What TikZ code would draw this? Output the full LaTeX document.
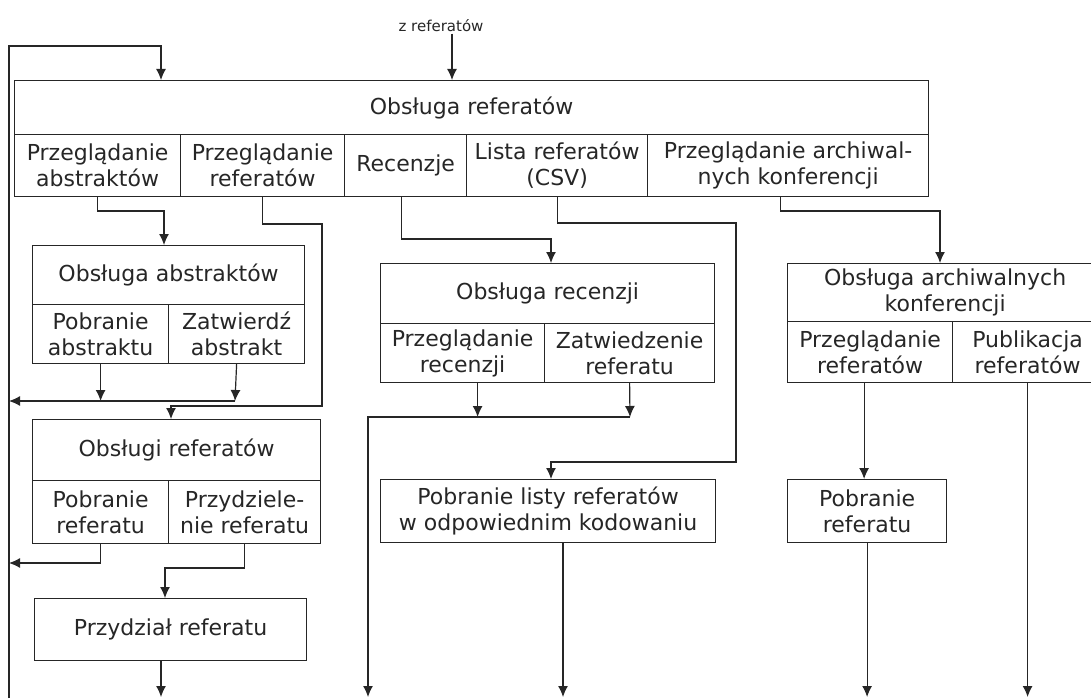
\documentclass[tikz,border=0pt]{standalone}
\usepackage{fontspec}
\setmainfont{DejaVu Sans}
\usetikzlibrary{arrows.meta}

\begin{document}
\begin{tikzpicture}[x=1pt, y=-1pt, line width=1.2pt, color=black!85, font=\fontsize{22}{26}\selectfont]
    % Styles
    \tikzstyle{cell} = [rectangle, draw, inner sep=0pt, align=center, anchor=north west]
    \tikzstyle{note} = [inner sep=1pt, font=\fontsize{15}{18}\selectfont]
    \tikzstyle{arrow} = [->, >={Latex[length=11pt, width=10pt]}]

    \clip (0,0) rectangle (1091,698);

    % Nodes
    \node [note] (zin) at (441,26) {z referatów};
    \node [cell, minimum width=914pt, minimum height=54pt] (main) at (14,80) {Obsługa referatów};
    \node [cell, minimum width=166pt, minimum height=62pt] (c1) at (14,134) {Przeglądanie\\abstraktów};
    \node [cell, minimum width=164pt, minimum height=62pt] (c2) at (180,134) {Przeglądanie\\referatów};
    \node [cell, minimum width=122pt, minimum height=62pt] (c3) at (344,134) {Recenzje};
    \node [cell, minimum width=181pt, minimum height=62pt] (c4) at (466,134) {Lista referatów\\(CSV)};
    \node [cell, minimum width=281pt, minimum height=62pt] (c5) at (647,134) {Przeglądanie archiwal-\\nych konferencji};

    \node [cell, minimum width=272pt, minimum height=59pt] (abs) at (32,245) {Obsługa abstraktów};
    \node [cell, minimum width=136pt, minimum height=59pt] (a1) at (32,304) {Pobranie\\abstraktu};
    \node [cell, minimum width=136pt, minimum height=59pt] (a2) at (168,304) {Zatwierdź\\abstrakt};

    \node [cell, minimum width=288pt, minimum height=61pt] (ref) at (32,419) {Obsługi referatów};
    \node [cell, minimum width=136pt, minimum height=63pt] (r1) at (32,480) {Pobranie\\referatu};
    \node [cell, minimum width=152pt, minimum height=63pt] (r2) at (168,480) {Przydziele-\\nie referatu};
    \node [cell, minimum width=272pt, minimum height=62pt] (prz) at (34,598) {Przydział referatu};

    \node [cell, minimum width=334pt, minimum height=60pt] (rec) at (380,263) {Obsługa recenzji};
    \node [cell, minimum width=164pt, minimum height=59pt] (e1) at (380,323) {Przeglądanie\\recenzji};
    \node [cell, minimum width=170pt, minimum height=59pt] (e2) at (544,323) {Zatwiedzenie\\referatu};
    \node [cell, minimum width=335pt, minimum height=63pt] (lst) at (380,479) {Pobranie listy referatów\\w odpowiednim kodowaniu};

    \node [cell, minimum width=315pt, minimum height=58pt] (arc) at (787,263) {Obsługa archiwalnych\\konferencji};
    \node [cell, minimum width=165pt, minimum height=61pt] (h1) at (787,321) {Przeglądanie\\referatów};
    \node [cell, minimum width=150pt, minimum height=61pt] (h2) at (952,321) {Publikacja\\referatów};
    \node [cell, minimum width=159pt, minimum height=63pt] (pr) at (787,479) {Pobranie\\referatu};

    % Bends and free ends
    \coordinate (busB) at (9,698);
    \coordinate (loopT) at (161,46);
    \coordinate (turnA) at (164,211);
    \coordinate (turnB) at (322,224);
    \coordinate (turnC) at (171,406);
    \coordinate (mergeA) at (235,401);
    \coordinate (mergeB) at (9,563);
    \coordinate (turnD) at (165,568);
    \coordinate (outA) at (161,697);
    \coordinate (turnE) at (551,239);
    \coordinate (mergeC) at (630,417);
    \coordinate (outB) at (368,697);
    \coordinate (turnF) at (736,223);
    \coordinate (turnG) at (551,462);
    \coordinate (outC) at (563,697);
    \coordinate (turnH) at (940,211);
    \coordinate (outD) at (866,697);
    \coordinate (outE) at (1030,697);

    % Arrows
    \draw [arrow] ([xshift=11pt]zin.south) -- ([xshift=11pt]zin.south |- main.north);
    \draw [arrow] (busB) |- (loopT) -- (loopT |- main.north);
    \draw [arrow] (c1.south) |- (turnA) -- (turnA |- abs.north);
    \draw [arrow] (a1.south) -- (a1.south |- mergeA);
    \draw [arrow] (a2.south) -- (mergeA);
    \draw [arrow] (mergeA) -- (mergeA -| busB);
    \draw [arrow] (c2.south) |- (turnB) |- (turnC) -- (turnC |- ref.north);
    \draw [arrow] (r1.south) |- (mergeB);
    \draw [arrow] (r2.south) |- (turnD) -- (turnD |- prz.north);
    \draw [arrow] (prz.south -| outA) -- (outA);
    \draw [arrow] ([xshift=-4pt]c3.south) |- (turnE) -- (turnE |- rec.north);
    \draw [arrow] ([xshift=15pt]e1.south) -- ([xshift=15pt]e1.south |- mergeC);
    \draw [arrow] (e2.south) -- (mergeC);
    \draw [arrow] (mergeC) -| (outB);
    \draw [arrow] (c4.south) |- (turnF) |- (turnG) -- (turnG |- lst.north);
    \draw [arrow] (lst.south -| outC) -- (outC);
    \draw [arrow] ([xshift=-8pt]c5.south) |- (turnH) -- (turnH |- arc.north);
    \draw [arrow] ([xshift=-6pt]h1.south) -- ([xshift=-6pt]h1.south |- pr.north);
    \draw [arrow] (pr.south) -- (pr.south |- outD);
    \draw [arrow] (h2.south) -- (h2.south |- outE);
\end{tikzpicture}
\end{document}
